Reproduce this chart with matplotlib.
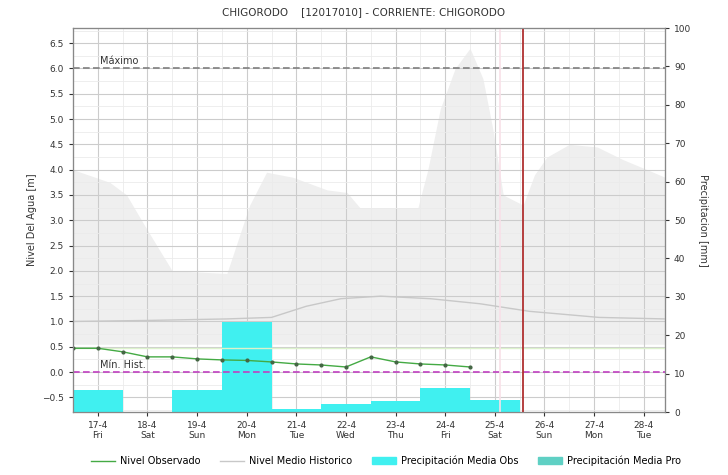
import matplotlib.pyplot as plt
from matplotlib.lines import Line2D
from matplotlib.patches import Patch
from matplotlib.ticker import MultipleLocator

# day index 0 = 17-4 (ticks at each day)
day_labels = ['17-4\nFri', '18-4\nSat', '19-4\nSun', '20-4\nMon', '21-4\nTue', '22-4\nWed',
              '23-4\nThu', '24-4\nFri', '25-4\nSat', '26-4\nSun', '27-4\nMon', '28-4\nTue']
days = list(range(12))

# observed level [m], every 12 h
obs_days = [-0.5, 0.0, 0.5, 1.0, 1.5, 2.0, 2.5, 3.0, 3.5, 4.0, 4.5, 5.0, 5.5, 6.0, 6.5, 7.0, 7.5]
obs_level = [0.47, 0.47, 0.40, 0.30, 0.30, 0.26, 0.24, 0.23, 0.20, 0.16, 0.14, 0.10, 0.30, 0.20, 0.16, 0.14, 0.10]

# historical mean level [m]
hist_days = [-0.5, 1.0, 2.6, 3.5, 4.2, 4.9, 5.7, 6.7, 7.7, 8.7, 10.1, 11.43]
hist_mean = [1.00, 1.02, 1.05, 1.08, 1.30, 1.45, 1.50, 1.45, 1.35, 1.20, 1.08, 1.05]

# historical band (grey area) upper envelope [m]
band_days = [-0.5, 0.24, 0.58, 0.91, 1.25, 1.5, 2.6, 2.72, 3.06, 3.4, 3.93, 4.62, 5.02, 5.28,
             6.45, 6.65, 6.9, 7.2, 7.5, 7.76, 7.96, 8.17, 8.57, 8.8, 9.05, 9.5, 10.06, 10.58,
             11.07, 11.43]
band_top = [4.0, 3.75, 3.5, 2.95, 2.4, 2.0, 1.95, 2.3, 3.3, 3.95, 3.85, 3.6, 3.55, 3.25,
            3.25, 4.0, 5.2, 6.0, 6.4, 5.8, 4.8, 3.5, 3.3, 3.9, 4.25, 4.5, 4.45, 4.2,
            4.0, 3.85]
band_bottom = 0.55

# daily precipitation [mm]
precip_obs = [5.7, 0.0, 5.7, 23.4, 0.8, 2.2, 2.8, 6.2, 3.1]
precip_pro = [0.0, 0.0, 0.0]

level_max = 6.0
level_min = 0.0
now_day = 8.57

xmin, xmax = -0.5, 11.43
ymin, ymax = -0.79, 6.8

fig = plt.figure(figsize=(7.28, 4.75), dpi=100)
ax1 = fig.add_axes([0.1003, 0.1326, 0.8132, 0.8084])
ax2 = ax1.twinx()
ax3 = ax1.twinx()

# background: grid + grey band
ax1.fill_between(band_days, band_bottom, band_top, color='#efefef', lw=0)
ax1.set_xlim(xmin, xmax)
ax1.set_ylim(ymin, ymax)
ax1.yaxis.set_major_locator(MultipleLocator(0.5))
ax1.yaxis.set_minor_locator(MultipleLocator(0.25))
ax1.xaxis.set_minor_locator(MultipleLocator(0.5))
ax1.set_xticks(days)
ax1.set_xticklabels(day_labels)
ax1.grid(which='major', color='#cccccc', lw=0.8)
ax1.grid(which='minor', color='#ebebeb', lw=0.6)
ax1.tick_params(which='both', labelsize=6.5, colors='#333333', length=3)
ax1.tick_params(which='minor', length=0)
ax1.set_ylabel('Nivel Del Agua [m]', fontsize=7, color='#333333')

# precipitation bars on right axis
ax2.bar(days[:len(precip_obs)], precip_obs, width=1.0, color='#40f0f0', lw=0)
ax2.bar(days[len(precip_obs):], precip_pro, width=1.0, color='#5fd0c4', lw=0)
ax2.set_ylim(0, 100)
ax2.set_yticks(range(0, 101, 10))
ax2.tick_params(labelsize=6.5, colors='#333333', length=3)
ax2.set_ylabel('Precipitacion [mm]', fontsize=7, color='#333333', rotation=-90, labelpad=12)

# front: lines
ax3.set_ylim(ymin, ymax)
ax3.set_yticks([])
ax3.plot(hist_days, hist_mean, color='#c8c8c8', lw=1)
ax3.axhline(0.47, color='#dcf2cc', lw=1)
ax3.axhline(level_max, color='#808080', lw=1.2, ls=(0, (4, 2)))
ax3.axhline(level_min, color='#c040c0', lw=1.2, ls=(0, (4, 2)))
ax3.text(0.05, level_max + 0.05, 'Máximo', fontsize=7, color='#333333', va='bottom')
ax3.text(0.05, level_min + 0.05, 'Mín. Hist.', fontsize=7, color='#333333', va='bottom')
ax3.plot(obs_days, obs_level, color='#44aa44', lw=1, marker='o', ms=2, mfc='#446644', mec='#446644')
ax3.axvline(8.1, color='#f8e0e8', lw=1.2)
ax3.axvline(now_day, color='#b03030', lw=1.3)
ax3.set_xlim(xmin, xmax)

for ax in (ax1, ax2, ax3):
    for s in ax.spines.values():
        s.set_color('#888888')

fig.suptitle('CHIGORODO    [12017010] - CORRIENTE: CHIGORODO', fontsize=7.5, y=0.985, color='#333333')

handles = [Line2D([], [], color='#44aa44', lw=1),
           Line2D([], [], color='#c8c8c8', lw=1),
           Patch(color='#40f0f0'),
           Patch(color='#5fd0c4')]
labels = ['Nivel Observado', 'Nivel Medio Historico', 'Precipitación Media Obs', 'Precipitación Media Pro']
fig.legend(handles, labels, loc='lower center', bbox_to_anchor=(0.53, 0.0), ncol=4, frameon=False,
           fontsize=7, handlelength=2.5, handletextpad=0.5, columnspacing=2.0)

fig.savefig('out.png', dpi=100)
